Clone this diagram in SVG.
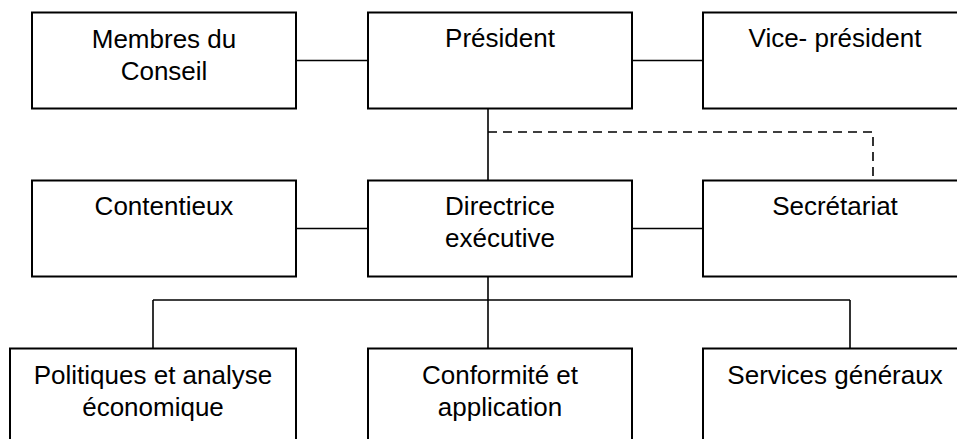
<svg xmlns="http://www.w3.org/2000/svg" width="957" height="439" viewBox="0 0 957 439">
<style>
.box{fill:#fff;stroke:#000;stroke-width:2}
.ln{fill:none;stroke:#000;stroke-width:1.6}
.dash{fill:none;stroke:#000;stroke-width:1.6;stroke-dasharray:9 6}
text{font-family:"Liberation Sans",Arial,sans-serif;font-size:26px;fill:#000;text-anchor:middle}
</style>
<rect width="957" height="439" fill="#fff"/>
<g id="connectors">
<path class="ln" d="M296,60.5H368"/>
<path class="ln" d="M632,60.5H703"/>
<path class="ln" d="M488,108.5V180.5"/>
<path class="dash" d="M488,132H873V180.5"/>
<path class="ln" d="M296,228.5H368"/>
<path class="ln" d="M632,228.5H703"/>
<path class="ln" d="M488,276.5V348.5"/>
<path class="ln" d="M153,300H850"/>
<path class="ln" d="M153,300V348.5"/>
<path class="ln" d="M850,300V348.5"/>
</g>
<g id="membres"><rect class="box" x="32" y="12.5" width="264" height="96"/><text x="164" y="48">Membres du</text><text x="164" y="80">Conseil</text></g>
<g id="president"><rect class="box" x="368" y="12.5" width="264" height="96"/><text x="500" y="47">Président</text></g>
<g id="vice-president"><rect class="box" x="703" y="12.5" width="264" height="96"/><text x="835" y="47">Vice- président</text></g>
<g id="contentieux"><rect class="box" x="32" y="180.5" width="264" height="96"/><text x="164" y="215">Contentieux</text></g>
<g id="directrice"><rect class="box" x="368" y="180.5" width="264" height="96"/><text x="500" y="215">Directrice</text><text x="500" y="247">exécutive</text></g>
<g id="secretariat"><rect class="box" x="703" y="180.5" width="264" height="96"/><text x="835" y="215">Secrétariat</text></g>
<g id="politiques"><rect class="box" x="10" y="348.5" width="286" height="96"/><text x="153" y="384">Politiques et analyse</text><text x="153" y="416">économique</text></g>
<g id="conformite"><rect class="box" x="368" y="348.5" width="264" height="96"/><text x="500" y="384">Conformité et</text><text x="500" y="416">application</text></g>
<g id="services"><rect class="box" x="703" y="348.5" width="264" height="96"/><text x="835" y="384">Services généraux</text></g>
</svg>
